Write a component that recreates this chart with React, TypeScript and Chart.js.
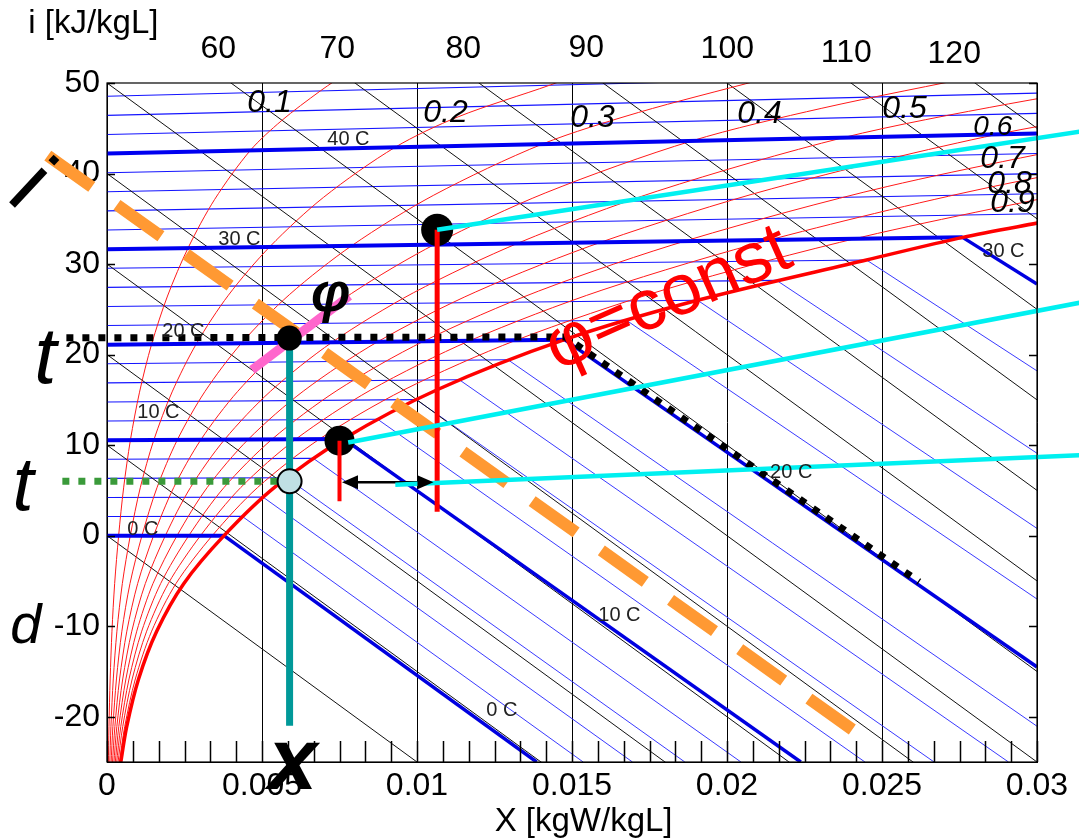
import { useEffect, useRef } from 'react';
import { Chart, registerables } from 'chart.js';

Chart.register(...registerables);

const FAMILY = '"Liberation Sans", Arial, Helvetica, sans-serif';

// ---------- axes ----------
const xTickValues = [0, 0.005, 0.01, 0.015, 0.02, 0.025, 0.03];
const xTickLabels = ['0', '0.005', '0.01', '0.015', '0.02', '0.025', '0.03'];
const yTickValues = [-20, -10, 0, 10, 20, 30, 40, 50];
const xMinorPerMajor = 6;

// ---------- isenthalps i = const (black) ----------
const enthalpyValues = [0, 10, 20, 30, 40, 50, 60, 70, 80, 90, 100, 110, 120];
const enthalpySlope = -2500; // drop of the chart ordinate per kgW/kgL
const enthalpyLabels = ['60', '70', '80', '90', '100', '110', '120'];

// ---------- isotherms (blue) ----------
const isoTemps = [0, 2, 4, 6, 8, 10, 12, 14, 16, 18, 20, 22, 24, 26, 28, 30, 32, 34, 36, 38, 40, 42, 44, 46, 48];
const isoLeftY = [0, 2.11, 4.22, 6.33, 8.44, 10.55, 12.66, 14.77, 16.88, 18.99, 21.1, 23.21, 25.32, 27.43, 29.54, 31.65, 33.76, 35.87, 37.98, 40.09, 42.2, 44.31, 46.42, 48.53, 50.64];
// where each isotherm reaches saturation (t = 0..30)
const satX = [0.003775, 0.004364, 0.005035, 0.005795, 0.006656, 0.007631, 0.008731, 0.009974, 0.011366, 0.012937, 0.014757, 0.01675, 0.01905, 0.0216, 0.0245, 0.0276];
const satY = [0, 2.126, 4.257, 6.395, 8.539, 10.69, 12.855, 15.03, 17.218, 19.423, 21.65, 23.8, 26.0, 28.2, 30.45, 32.95];
// isotherms that run to the right edge (t = 32..48), ordinate at X = 0.03
const warmRightY = [35.55, 37.77, 39.99, 42.21, 44.43, 46.65, 48.88, 51.1, 53.3];
// fog-region isotherms (t = 0..30), end points
const fogEndX = [0.01386, 0.01536, 0.01695, 0.01864, 0.02045, 0.02238, 0.02445, 0.02668, 0.02908, 0.03, 0.03, 0.03, 0.03, 0.03, 0.03, 0.03];
const fogEndY = [-25, -25, -25, -25, -25, -25, -25, -25, -25, -21.05, -14.5, -7.0, 0.8, 9.1, 18.2, 27.8];

// ---------- relative humidity curves (red) ----------
const rh10 = [[0.0000431, -25.32], [0.0000634, -21.1], [0.000102, -15.83], [0.00016, -10.55], [0.000247, -5.28], [0.000375, 0], [0.000536, 5.28], [0.000755, 10.56], [0.001049, 15.85], [0.001439, 21.15], [0.001952, 26.47], [0.002618, 31.8], [0.003474, 37.15], [0.00462, 42.54], [0.00562, 45.81], [0.00688, 49.12], [0.00783, 51.34]];
const rh20 = [[0.0000862, -25.32], [0.000127, -21.1], [0.000203, -15.83], [0.00032, -10.55], [0.000495, -5.28], [0.000751, 0], [0.001073, 5.29], [0.001512, 10.58], [0.002101, 15.88], [0.002885, 21.21], [0.003916, 26.56], [0.005258, 31.94], [0.006988, 37.38], [0.00929, 42.89], [0.01133, 46.27], [0.0143, 49.78], [0.0161, 52.1]];
const rh30 = [[0.000129, -25.32], [0.00019, -21.1], [0.000305, -15.83], [0.00048, -10.55], [0.000742, -5.28], [0.001128, 0], [0.001611, 5.29], [0.00227, 10.59], [0.003157, 15.91], [0.004338, 21.26], [0.005893, 26.65], [0.00792, 32.09], [0.010541, 37.61], [0.01404, 43.25], [0.01714, 46.74], [0.02106, 50.33]];
const rh40 = [[0.000172, -25.32], [0.000254, -21.1], [0.000406, -15.83], [0.00064, -10.55], [0.00099, -5.28], [0.001504, 0], [0.00215, 5.3], [0.00303, 10.61], [0.004217, 15.94], [0.005797, 21.32], [0.007882, 26.74], [0.010606, 32.24], [0.014135, 37.85], [0.01886, 43.6], [0.02306, 47.21], [0.02837, 50.96]];
const rh50 = [[0.000216, -25.32], [0.000317, -21.1], [0.000508, -15.83], [0.0008, -10.55], [0.001237, -5.28], [0.001882, 0], [0.00269, 5.3], [0.003793, 10.62], [0.00528, 15.97], [0.007264, 21.37], [0.009884, 26.83], [0.013314, 32.39], [0.01777, 38.08], [0.02376, 43.97], [0.02908, 47.69], [0.03584, 51.6]];
const rh60 = [[0.000259, -25.32], [0.00038, -21.1], [0.00061, -15.83], [0.00096, -10.55], [0.001484, -5.28], [0.002259, 0], [0.00323, 5.31], [0.004557, 10.64], [0.006347, 16.0], [0.008737, 21.43], [0.011898, 26.93], [0.016045, 32.55], [0.021446, 38.32], [0.02873, 44.34], [0.03521, 48.18]];
const rh70 = [[0.000302, -25.32], [0.000444, -21.1], [0.000711, -15.83], [0.00112, -10.55], [0.001732, -5.28], [0.002638, 0], [0.003772, 5.31], [0.005323, 10.65], [0.007417, 16.03], [0.010217, 21.48], [0.013925, 27.02], [0.0188, 32.7], [0.025165, 38.56], [0.03377, 44.71]];
const rh80 = [[0.000345, -25.32], [0.000507, -21.1], [0.000813, -15.83], [0.00128, -10.55], [0.001979, -5.28], [0.003016, 0], [0.004315, 5.32], [0.006091, 10.66], [0.008491, 16.06], [0.011704, 21.54], [0.015966, 27.12], [0.021579, 32.85], [0.028928, 38.81], [0.0389, 45.1]];
const rh90 = [[0.000388, -25.32], [0.000571, -21.1], [0.000914, -15.83], [0.00144, -10.55], [0.002227, -5.28], [0.003395, 0], [0.004858, 5.32], [0.00686, 10.68], [0.009569, 16.09], [0.013198, 21.59], [0.018019, 27.21], [0.024382, 33.01], [0.032734, 39.05]];
const saturation = [[0.000431, -25.32], [0.000634, -21.12], [0.001016, -15.85], [0.0016, -10.58], [0.002474, -5.3], [0.003775, 0], [0.005403, 5.33], [0.007631, 10.69], [0.01065, 16.12], [0.014757, 21.65], [0.01905, 26.0], [0.0245, 30.45], [0.0276, 32.95], [0.0302, 34.65]];
const rhLabels = ['0.1', '0.2', '0.3', '0.4', '0.5', '0.6', '0.7', '0.8', '0.9'];

// ---------- state points of the example ----------
const pointA = [0.01065, 33.78];      // upper black dot
const pointB = [0.00588, 21.82];      // dot on the 20 C line
const pointC = [0.0075, 10.49];       // dot on saturation
const pointDew = [0.00589, 6.0];      // light dew point circle
const redDropA = [33.78, 2.65];
const redDropC = [10.49, 3.79];
const tealBottom = -21.0;
const arrowY = 5.9;
const arrowX = [0.00758, 0.01053];
const cyanEnds = [[0.01065, 33.78, 0.03137, 44.63], [0.00778, 10.3, 0.03137, 25.72], [0.0093, 5.63, 0.03137, 8.89]];
const orangeLine = [[-0.00191, 41.99], [0.024042, -21.41]];
const pinkLine = [[0.004677, 18.32], [0.007816, 26.49]];
const blackDotted = [[-0.00131, 21.85], [0.01478, 21.95], [0.0262, -5.1]];
const greenDotted = [[-0.00144, 6.0], [0.00589, 6.0]];

export default function App() {
  const canvasRef = useRef<HTMLCanvasElement | null>(null);

  useEffect(() => {
    const canvas = canvasRef.current;
    if (!canvas) return;
    const datasets: any[] = [];
    const add = (ds: any) => {
      datasets.push({
        showLine: true, pointRadius: 0, pointHoverRadius: 0, fill: false, tension: 0,
        ...ds, order: -datasets.length,
      });
    };
    const P = (a: number[][]) => a.map(([x, y]) => ({ x, y }));
    const BLUE = '#1414ff';
    const FOGBLUE = '#3a3aff';

    // thin blue isotherms, unsaturated part
    isoTemps.forEach((t, i) => {
      if (t % 10 === 0) return;
      const end = i < satX.length ? { x: satX[i], y: satY[i] } : { x: 0.03, y: warmRightY[i - satX.length] };
      add({ data: [{ x: 0, y: isoLeftY[i] }, end], borderColor: BLUE, borderWidth: 1.1 });
    });
    // thin blue fog isotherms
    satX.forEach((sx, i) => {
      if (isoTemps[i] % 10 === 0) return;
      add({ data: [{ x: sx, y: satY[i] }, { x: fogEndX[i], y: fogEndY[i] }], borderColor: FOGBLUE, borderWidth: 1 });
    });
    // black isenthalps
    enthalpyValues.forEach((h) => {
      add({ data: [{ x: 0, y: h }, { x: 0.03, y: h + enthalpySlope * 0.03 }], borderColor: '#111', borderWidth: 1 });
    });
    // red RH curves
    [rh10, rh20, rh30, rh40, rh50, rh60, rh70, rh80, rh90].forEach((c) => {
      add({ data: P(c), borderColor: '#ff1a1a', borderWidth: 1, tension: 0.3 });
    });
    // thick isotherms
    isoTemps.forEach((t, i) => {
      if (t % 10 !== 0) return;
      const end = i < satX.length ? { x: satX[i], y: satY[i] } : { x: 0.03, y: warmRightY[i - satX.length] };
      add({ data: [{ x: 0, y: isoLeftY[i] }, end], borderColor: '#0000f0', borderWidth: 4 });
      if (i < satX.length) {
        add({ data: [{ x: satX[i], y: satY[i] }, { x: fogEndX[i], y: fogEndY[i] }], borderColor: '#0000e0', borderWidth: 3.5 });
      }
    });
    // saturation curve
    add({ data: P(saturation), borderColor: '#ff0000', borderWidth: 3.5, tension: 0.3 });

    // ---- annotation marks ----
    add({ data: P(orangeLine), borderColor: '#ff9933', borderWidth: 12, borderDash: [54, 31], borderCapStyle: 'butt', clip: false });
    add({ data: P(blackDotted), borderColor: '#000', borderWidth: 7, borderDash: [7, 9], borderCapStyle: 'butt', clip: false });
    add({ data: P(greenDotted), borderColor: '#3a9a3a', borderWidth: 7, borderDash: [7, 9], borderCapStyle: 'butt', clip: false });
    add({ data: P(pinkLine), borderColor: '#ff66cc', borderWidth: 9, borderCapStyle: 'butt' });
    add({ data: [{ x: pointDew[0], y: pointB[1] }, { x: pointDew[0], y: tealBottom }], borderColor: '#009999', borderWidth: 7, borderCapStyle: 'butt' });
    add({ data: [{ x: arrowX[0] + 0.0003, y: arrowY }, { x: arrowX[1] - 0.0003, y: arrowY }], borderColor: '#000', borderWidth: 2.5 });
    add({ data: [{ x: pointA[0], y: pointA[1] }], showLine: false, pointRadius: 16, pointBackgroundColor: '#000', pointBorderWidth: 0 });
    add({ data: [{ x: pointB[0], y: pointB[1] }], showLine: false, pointRadius: 12.5, pointBackgroundColor: '#000', pointBorderWidth: 0 });
    add({ data: [{ x: pointC[0], y: pointC[1] }], showLine: false, pointRadius: 15, pointBackgroundColor: '#000', pointBorderWidth: 0 });
    add({ data: [{ x: pointDew[0], y: pointDew[1] }], showLine: false, pointRadius: 12, pointBackgroundColor: '#c0e0e4', pointBorderColor: '#000', pointBorderWidth: 2 });
    add({ data: [{ x: pointA[0], y: redDropA[0] }, { x: pointA[0], y: redDropA[1] }], borderColor: '#ff0000', borderWidth: 5, borderCapStyle: 'butt' });
    add({ data: [{ x: pointC[0], y: redDropC[0] }, { x: pointC[0], y: redDropC[1] }], borderColor: '#ff0000', borderWidth: 4, borderCapStyle: 'butt' });
    cyanEnds.forEach(([x1, y1, x2, y2]) => {
      add({ data: [{ x: x1, y: y1 }, { x: x2, y: y2 }], borderColor: '#00f0f0', borderWidth: 4.5, clip: false });
    });

    const texts: any[] = [
      { text: 'i [kJ/kgL]', x: -0.00254, y: 55.52, font: `33px ${FAMILY}`, color: '#000', align: 'left', base: 'alphabetic' },
      { text: 'X [kgW/kgL]', x: 0.015374, y: -32.67, font: `33px ${FAMILY}`, color: '#000', align: 'center', base: 'alphabetic' },
      // isotherm labels
      { text: '40 C', x: 0.007106, y: 43.16 },
      { text: '30 C', x: 0.00359, y: 32.12 },
      { text: '20 C', x: 0.001784, y: 21.96 },
      { text: '10 C', x: 0.000977, y: 13.02 },
      { text: '0 C', x: 0.000655, y: 0.11 },
      { text: '30 C', x: 0.028235, y: 30.79 },
      { text: '20 C', x: 0.02139, y: 6.4 },
      { text: '10 C', x: 0.015848, y: -9.38 },
      { text: '0 C', x: 0.012235, y: -19.87 },
    ];
    texts.forEach((t) => { if (!t.font) { t.font = `20px ${FAMILY}`; t.color = '#222'; t.align = 'left'; t.base = 'alphabetic'; } });
    const topLabelX = [0.00359, 0.00743, 0.01149, 0.01546, 0.02001, 0.02385, 0.02733];
    const topLabelY = [53.75, 53.75, 53.75, 53.86, 53.75, 53.31, 53.2];
    enthalpyLabels.forEach((s, i) => texts.push({ text: s, x: topLabelX[i], y: topLabelY[i], font: `32px ${FAMILY}`, color: '#000', align: 'center', base: 'middle' }));
    const rhLabelX = [0.004526, 0.010203, 0.014945, 0.020332, 0.02501, 0.027945, 0.028171, 0.028397, 0.028494];
    const rhLabelY = [46.8, 45.7, 45.14, 45.58, 46.14, 44.26, 40.62, 37.86, 35.76];
    const rhLabelSize = [32, 32, 32, 32, 32, 28, 32, 32, 32];
    rhLabels.forEach((s, i) => texts.push({ text: s, x: rhLabelX[i], y: rhLabelY[i], font: `italic ${rhLabelSize[i]}px ${FAMILY}`, color: '#000', align: 'left', base: 'alphabetic' }));
    // big symbols
    texts.push({ text: 'i', x: -0.00306, y: 36.53, font: `90px ${FAMILY}`, color: '#000', align: 'center', base: 'alphabetic', rot: 43 });
    texts.push({ text: 't', x: -0.00235, y: 16.89, font: `italic 80px ${FAMILY}`, color: '#000', align: 'left', base: 'alphabetic' });
    texts.push({ text: 't', x: -0.00305, y: 2.87, font: `italic 76px ${FAMILY}`, color: '#000', align: 'left', base: 'alphabetic' });
    texts.push({ text: 'd', x: -0.00312, y: -11.81, font: `italic 56px ${FAMILY}`, color: '#000', align: 'left', base: 'alphabetic' });
    texts.push({ text: 'x', x: 0.0052, y: -28.0, font: `italic bold 88px ${FAMILY}`, color: '#000', align: 'left', base: 'alphabetic' });
    texts.push({ text: '\u03C6', x: 0.007213, y: 26.49, font: `italic bold 56px ${FAMILY}`, color: '#000', align: 'center', base: 'middle' });
    texts.push({ text: '\u03C6=const', x: 0.018106, y: 26.05, font: `72px ${FAMILY}`, color: '#ff0000', align: 'center', base: 'middle', rot: -24 });

    const overlay = {
      id: 'overlay',
      afterDatasetsDraw(chart: any) {
        const { ctx, chartArea: a } = chart;
        const sx = chart.scales.x, sy = chart.scales.y;
        const X = (v: number) => sx.getPixelForValue(v);
        const Y = (v: number) => sy.getPixelForValue(v);
        ctx.save();
        ctx.strokeStyle = '#000';
        ctx.lineWidth = 1.2;
        ctx.strokeRect(a.left, a.top, a.right - a.left, a.bottom - a.top);
        ctx.lineWidth = 1.5;
        ctx.beginPath();
        const nMinor = (xTickValues.length - 1) * xMinorPerMajor;
        for (let k = 0; k <= nMinor; k++) {
          const px = Math.round(X((k / nMinor) * 0.03)) + 0.5;
          ctx.moveTo(px, a.bottom);
          ctx.lineTo(px, a.bottom - 21);
        }
        yTickValues.forEach((v) => {
          const py = Math.round(Y(v)) + 0.5;
          ctx.moveTo(a.left, py); ctx.lineTo(a.left + 8, py);
          ctx.moveTo(a.right, py); ctx.lineTo(a.right - 8, py);
        });
        ctx.stroke();
        // arrow heads
        ctx.fillStyle = '#000';
        const ay = Y(arrowY);
        const head = (tipX: number, dir: number) => {
          ctx.beginPath();
          ctx.moveTo(tipX, ay);
          ctx.lineTo(tipX + dir * 16, ay - 7);
          ctx.lineTo(tipX + dir * 16, ay + 7);
          ctx.closePath();
          ctx.fill();
        };
        head(X(arrowX[0]), 1);
        head(X(arrowX[1]), -1);
        texts.forEach((t) => {
          ctx.save();
          ctx.font = t.font;
          ctx.fillStyle = t.color;
          ctx.textAlign = t.align;
          ctx.textBaseline = t.base;
          ctx.translate(X(t.x), Y(t.y));
          if (t.rot) ctx.rotate((t.rot * Math.PI) / 180);
          ctx.fillText(t.text, 0, 0);
          ctx.restore();
        });
        ctx.restore();
      },
    };

    const chart = new Chart(canvas, {
      type: 'scatter',
      data: { datasets },
      options: {
        animation: false,
        responsive: false,
        maintainAspectRatio: false,
        devicePixelRatio: 1,
        events: [],
        layout: { padding: { left: 0, right: 42, top: 83, bottom: 0 } },
        elements: { point: { radius: 0 }, line: { capBezierPoints: false } },
        plugins: { legend: { display: false }, tooltip: { enabled: false }, title: { display: false } },
        scales: {
          x: {
            type: 'linear', min: 0, max: 0.03,
            afterBuildTicks: (s: any) => { s.ticks = xTickValues.map((v) => ({ value: v })); },
            afterFit: (s: any) => { s.height = 76; },
            ticks: {
              padding: 5, color: '#000', maxRotation: 0, autoSkip: false,
              font: { family: FAMILY, size: 32 },
              callback: (_v: any, i: number) => xTickLabels[i],
            },
            grid: { color: '#000', lineWidth: 1, drawTicks: false },
            border: { display: true, color: '#000', width: 1 },
          },
          y: {
            type: 'linear', min: -25, max: 50,
            afterBuildTicks: (s: any) => { s.ticks = yTickValues.map((v) => ({ value: v })); },
            afterFit: (s: any) => { s.width = 107; },
            ticks: { padding: 7, color: '#000', font: { family: FAMILY, size: 32 } },
            grid: { display: false, drawTicks: false },
            border: { display: true, color: '#000', width: 1 },
          },
        },
      } as any,
      plugins: [overlay],
    });
    return () => chart.destroy();
  }, []);

  return (
    <div style={{ position: 'fixed', left: 0, top: 0, width: 1079, height: 838, background: '#fff' }}>
      <canvas ref={canvasRef} width={1079} height={838} style={{ width: 1079, height: 838, display: 'block' }} />
    </div>
  );
}
